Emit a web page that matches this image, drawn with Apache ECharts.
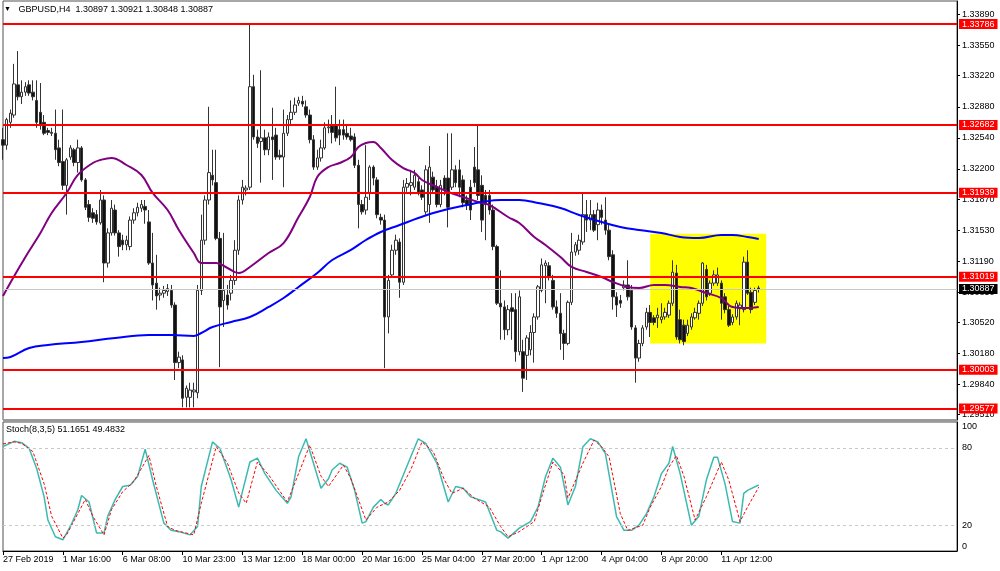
<!DOCTYPE html>
<html><head><meta charset="utf-8">
<script src="https://cdn.jsdelivr.net/npm/echarts@6/dist/echarts.min.js"></script>
<style>html,body{margin:0;padding:0;background:#fff}#c{width:1000px;height:571px}</style>
</head><body><div id="c"></div>
<script>
const symbolTitle = 'GBPUSD,H4';
const lastQuote = ['1.30897','1.30921','1.30848','1.30887'];
const stochTitle = 'Stoch(8,3,5) 51.1651 49.4832';
const timeLabels = ['27 Feb 2019','1 Mar 16:00','6 Mar 08:00','10 Mar 23:00','13 Mar 12:00','18 Mar 00:00','20 Mar 16:00','25 Mar 04:00','27 Mar 20:00','1 Apr 12:00','4 Apr 04:00','8 Apr 20:00','11 Apr 12:00'];
const labelEvery = 16;
const barSlots = 256;

const open = [1.3252,1.3246,1.3271,1.3279,1.3312,1.3299,1.3304,1.3312,1.3304,1.3295,
1.3282,1.3271,1.3262,1.3260,1.3259,1.3243,1.3228,1.3202,1.3233,1.3241,
1.3227,1.3243,1.3208,1.3181,1.3172,1.3170,1.3161,1.3186,1.3117,1.3150,
1.3175,1.3150,1.3142,1.3137,1.3135,1.3164,1.3172,1.3177,1.3179,1.3162,
1.3117,1.3095,1.3082,1.3084,1.3086,1.3087,1.3071,1.3008,1.3011,1.2970,
1.2970,1.2976,1.2975,1.3087,1.3142,1.3186,1.3213,1.3205,1.3144,1.3076,
1.3082,1.3084,1.3098,1.3131,1.3186,1.3197,1.3200,1.3310,1.3255,1.3250,
1.3254,1.3241,1.3255,1.3257,1.3235,1.3233,1.3259,1.3274,1.3282,1.3292,
1.3294,1.3288,1.3279,1.3252,1.3222,1.3232,1.3243,1.3265,1.3267,1.3268,
1.3263,1.3263,1.3259,1.3256,1.3255,1.3224,1.3181,1.3175,1.3194,1.3222,
1.3208,1.3167,1.3164,1.3058,1.3104,1.3131,1.3140,1.3096,1.3200,1.3202,
1.3200,1.3206,1.3197,1.3173,1.3181,1.3211,1.3200,1.3181,1.3210,1.3210,
1.3200,1.3219,1.3219,1.3208,1.3186,1.3200,1.3222,1.3219,1.3202,1.3191,
1.3191,1.3175,1.3135,1.3073,1.3069,1.3044,1.3068,1.3066,1.3020,1.3020,
1.3016,1.3022,1.3041,1.3058,1.3087,1.3114,1.3114,1.3098,1.3069,1.3062,
1.3040,1.3029,1.3074,1.3129,1.3131,1.3140,1.3170,1.3164,1.3170,1.3159,
1.3175,1.3164,1.3153,1.3126,1.3080,1.3076,1.3090,1.3093,1.3087,1.3046,
1.3013,1.3029,1.3047,1.3063,1.3057,1.3057,1.3055,1.3058,1.3060,1.3073,
1.3106,1.3055,1.3049,1.3040,1.3047,1.3057,1.3062,1.3073,1.3110,1.3084,
1.3095,1.3095,1.3095,1.3080,1.3066,1.3052,1.3058,1.3067,1.3066,1.3118,
1.3085,1.3074,1.30897];
const high = [1.3265,1.3276,1.3285,1.3335,1.3349,1.3317,1.3315,1.3317,1.3317,1.3317,
1.3314,1.3279,1.3265,1.3265,1.3285,1.3252,1.3285,1.3232,1.3246,1.3243,
1.3252,1.3245,1.3210,1.3186,1.3177,1.3175,1.3197,1.3191,1.3155,1.3186,
1.3181,1.3153,1.3148,1.3147,1.3168,1.3177,1.3183,1.3186,1.3186,1.3175,
1.3150,1.3126,1.3090,1.3092,1.3094,1.3093,1.3074,1.3020,1.3016,1.2983,
1.2986,1.2986,1.3093,1.3170,1.3191,1.3288,1.3241,1.3241,1.3151,1.3150,
1.3093,1.3104,1.3142,1.3191,1.3208,1.3202,1.3379,1.3323,1.3263,1.3328,
1.3263,1.3260,1.3287,1.3265,1.3241,1.3285,1.3279,1.3295,1.3298,1.3299,
1.3300,1.3295,1.3285,1.3257,1.3241,1.3252,1.3271,1.3274,1.3279,1.3310,
1.3274,1.3274,1.3268,1.3265,1.3259,1.3230,1.3186,1.3246,1.3224,1.3224,
1.3211,1.3171,1.3170,1.3104,1.3137,1.3148,1.3144,1.3208,1.3210,1.3219,
1.3219,1.3210,1.3202,1.3224,1.3245,1.3217,1.3208,1.3208,1.3213,1.3259,
1.3259,1.3224,1.3230,1.3213,1.3191,1.3208,1.3244,1.3268,1.3213,1.3197,
1.3197,1.3181,1.3137,1.3109,1.3076,1.3071,1.3084,1.3084,1.3087,1.3033,
1.3038,1.3049,1.3062,1.3093,1.3122,1.3120,1.3118,1.3104,1.3076,1.3084,
1.3044,1.3076,1.3150,1.3140,1.3148,1.3194,1.3186,1.3186,1.3175,1.3183,
1.3181,1.3189,1.3159,1.3131,1.3085,1.3082,1.3098,1.3120,1.3093,1.3049,
1.3033,1.3049,1.3068,1.3071,1.3060,1.3068,1.3073,1.3068,1.3076,1.3120,
1.3115,1.3066,1.3055,1.3055,1.3062,1.3068,1.3076,1.3118,1.3115,1.3098,
1.3109,1.3112,1.3098,1.3084,1.3070,1.3061,1.3076,1.3074,1.3124,1.3131,
1.3090,1.3090,1.30921];
const low = [1.3230,1.3241,1.3265,1.3276,1.3295,1.3291,1.3300,1.3300,1.3295,1.3265,
1.3263,1.3257,1.3257,1.3256,1.3230,1.3223,1.3197,1.3170,1.3230,1.3223,
1.3216,1.3206,1.3175,1.3162,1.3161,1.3159,1.3159,1.3096,1.3112,1.3147,
1.3147,1.3124,1.3131,1.3131,1.3131,1.3160,1.3168,1.3173,1.3160,1.3115,
1.3076,1.3066,1.3076,1.3079,1.3081,1.3068,1.2989,1.3002,1.2959,1.2959,
1.2959,1.2959,1.2969,1.3082,1.3137,1.3181,1.3202,1.3142,1.3003,1.3047,
1.3066,1.3076,1.3093,1.3126,1.3181,1.3191,1.3197,1.3252,1.3243,1.3205,
1.3235,1.3235,1.3208,1.3230,1.3230,1.3200,1.3256,1.3269,1.3279,1.3289,
1.3288,1.3276,1.3248,1.3219,1.3219,1.3228,1.3241,1.3259,1.3248,1.3250,
1.3246,1.3252,1.3252,1.3250,1.3221,1.3155,1.3170,1.3170,1.3186,1.3202,
1.3166,1.3159,1.3002,1.3040,1.3101,1.3126,1.3079,1.3093,1.3195,1.3191,
1.3197,1.3191,1.3186,1.3170,1.3161,1.3194,1.3178,1.3178,1.3191,1.3156,
1.3197,1.3200,1.3189,1.3178,1.3175,1.3164,1.3200,1.3186,1.3151,1.3142,
1.3170,1.3131,1.3071,1.3033,1.3033,1.3038,1.3033,1.3009,1.3016,1.2976,
1.2989,1.3016,1.3008,1.3055,1.3085,1.3073,1.3098,1.3066,1.3057,1.3022,
1.3011,1.3027,1.3071,1.3125,1.3126,1.3137,1.3151,1.3153,1.3151,1.3142,
1.3159,1.3148,1.3120,1.3066,1.3058,1.3068,1.3087,1.3076,1.3044,1.2986,
1.3009,1.3026,1.3044,1.3036,1.3049,1.3046,1.3051,1.3055,1.3057,1.3070,
1.3033,1.3029,1.3027,1.3037,1.3044,1.3055,1.3055,1.3070,1.3076,1.3081,
1.3092,1.3092,1.3055,1.3062,1.3047,1.3049,1.3055,1.3049,1.3063,1.3082,
1.3062,1.3071,1.30848];
const close = [1.3246,1.3274,1.3281,1.3313,1.3299,1.3304,1.3310,1.3303,1.3299,1.3271,
1.3268,1.3259,1.3260,1.3259,1.3241,1.3227,1.3202,1.3230,1.3243,1.3227,
1.3243,1.3208,1.3178,1.3167,1.3166,1.3162,1.3186,1.3117,1.3150,1.3177,
1.3150,1.3135,1.3137,1.3142,1.3164,1.3172,1.3178,1.3181,1.3175,1.3117,
1.3093,1.3081,1.3084,1.3087,1.3089,1.3071,1.3008,1.3014,1.2969,1.2980,
1.2978,1.2978,1.3087,1.3142,1.3186,1.3216,1.3208,1.3144,1.3069,1.3087,
1.3071,1.3098,1.3131,1.3186,1.3200,1.3199,1.3310,1.3255,1.3248,1.3254,
1.3241,1.3255,1.3252,1.3233,1.3233,1.3259,1.3274,1.3282,1.3290,1.3295,
1.3291,1.3279,1.3252,1.3222,1.3232,1.3243,1.3265,1.3266,1.3260,1.3254,
1.3257,1.3257,1.3255,1.3252,1.3224,1.3181,1.3173,1.3189,1.3222,1.3210,
1.3170,1.3164,1.3058,1.3098,1.3131,1.3142,1.3096,1.3200,1.3204,1.3205,
1.3213,1.3194,1.3189,1.3219,1.3222,1.3197,1.3181,1.3202,1.3197,1.3178,
1.3219,1.3205,1.3200,1.3183,1.3181,1.3175,1.3205,1.3191,1.3164,1.3181,
1.3175,1.3135,1.3073,1.3069,1.3044,1.3066,1.3064,1.3020,1.3080,1.2991,
1.3035,1.3041,1.3058,1.3091,1.3115,1.3117,1.3102,1.3069,1.3062,1.3040,
1.3029,1.3074,1.3129,1.3137,1.3142,1.3170,1.3164,1.3170,1.3153,1.3175,
1.3167,1.3153,1.3124,1.3080,1.3071,1.3073,1.3093,1.3080,1.3047,1.3013,
1.3029,1.3046,1.3063,1.3052,1.3052,1.3060,1.3058,1.3063,1.3073,1.3107,
1.3036,1.3033,1.3031,1.3049,1.3058,1.3063,1.3073,1.3117,1.3080,1.3095,
1.3104,1.3104,1.3073,1.3066,1.3049,1.3058,1.3073,1.3071,1.3118,1.3084,
1.3066,1.3087,1.30887];

const maPurple = [[0,1.30809],[3,1.31028],[6,1.31236],[10,1.31499],[13,1.31718],[17,1.31937],[20,1.32134],[24,1.32265],[26,1.32298],[29,1.3232],[33,1.32243],[37,1.32134],[40,1.31937],[44,1.3175],[47,1.31532],[51,1.3128],[53,1.3117],[57,1.3117],[60,1.31116],[63,1.31061],[66,1.31127],[71,1.3128],[75,1.31389],[79,1.31674],[82,1.31893],[84,1.32112],[87,1.32221],[90,1.32265],[93,1.32331],[95,1.3244],[97,1.32484],[99,1.32495],[101,1.32429],[104,1.32298],[107,1.3221],[110,1.32156],[112,1.32079],[116,1.32002],[119,1.31948],[123,1.31893],[127,1.31838],[130,1.31805],[135,1.31674],[138,1.31608],[142,1.31455],[145,1.31368],[149,1.31236],[152,1.31127],[156,1.31072],[160,1.31017],[163,1.30963],[167,1.30908],[170,1.30897],[174,1.3093],[177,1.3093],[181,1.30908],[184,1.30897],[188,1.30842],[192,1.30787],[195,1.30689],[199,1.30678],[202,1.30689]];
const maBlue = [[0,1.30131],[2,1.30142],[7,1.3024],[12,1.30273],[21,1.30306],[30,1.3035],[39,1.30382],[45,1.30382],[51,1.30372],[53,1.30404],[56,1.3047],[61,1.30525],[66,1.30579],[71,1.30689],[75,1.30787],[79,1.30908],[84,1.31061],[88,1.31203],[93,1.31313],[97,1.31422],[101,1.3151],[106,1.31586],[111,1.31663],[115,1.31718],[119,1.31762],[124,1.31805],[128,1.31838],[133,1.3186],[138,1.3186],[143,1.31827],[149,1.31772],[154,1.31696],[160,1.31619],[165,1.31565],[170,1.31532],[176,1.31499],[181,1.31455],[186,1.31444],[192,1.31477],[195,1.31477],[199,1.31455],[202,1.31433]];

const stochMain = [[0,81],[3,85],[5,84],[7,79.5],[9,64],[11,42],[12,24],[14,11],[16,8.7],[18,19],[20,32],[21,43],[23,38],[25,14],[27,14],[28,27],[30,40],[32,50],[34,51],[36,58],[38,79],[40,55],[43,21.6],[45,16],[47,15],[50,12.5],[52,19],[53,50],[56,84.6],[58,79.5],[61,55],[63,34],[64,46],[66,69],[68,72],[70,60],[73,47],[76,37],[77,42],[79,73],[81,87],[83,68],[85,48.6],[87,56],[88,63],[90,68],[92,65],[94,47],[96,21.6],[97,22.8],[99,34],[101,40],[102,37],[103,35.7],[105,44.7],[109,73],[111,87],[113,83.4],[116,68],[119,38],[121,50],[123,48.6],[125,42],[126,41],[129,38],[132,16],[133,15],[135,10],[138,17.7],[141,22.8],[143,34],[145,57.6],[147,72],[149,65],[151,35.7],[153,50],[155,80.8],[157,87],[159,84.6],[161,75.7],[164,26.7],[166,16],[168,16],[170,20],[172,29],[174,42],[176,60],[178,68],[179,81],[181,60],[184,20],[186,27],[188,55],[190,72.6],[191,72.6],[193,52],[195,22.8],[197,21.6],[198,44.7],[199,47],[202,51.17]];
const stochSignal = [[0,83],[3,84.6],[5,83.4],[8,77],[11,52],[13,27],[16,10],[17,12.5],[20,29],[22,40],[24,27],[27,12.5],[29,32],[32,46],[35,54],[39,74],[41,50],[44,19],[46,16],[51,12.5],[53,37],[57,81],[60,68],[63,45],[65,37],[68,69],[71,59],[76,38],[79,60],[82,82],[85,58],[87,50],[91,66.6],[93,56],[97,24],[100,34],[103,38],[106,47],[109,63],[112,84.6],[115,77],[118,55],[120,44.7],[123,48.6],[126,41],[130,34],[133,19],[135,11],[138,15],[142,22.8],[144,42],[147,69],[150,59],[151,41],[155,68],[158,86],[160,80.8],[162,73],[165,29],[167,16],[171,20],[173,34],[176,50],[178,65],[180,74],[182,58],[185,24],[188,42],[192,69],[194,55],[197,22.8],[199,34],[202,49.48]];

const levels = [1.33786,1.32682,1.31939,1.31019,1.30003,1.29577];
const lastPrice = 1.30887;
const priceTicks = [1.29510,1.29840,1.30180,1.30520,1.30850,1.31190,1.31530,1.31870,1.32200,1.32540,1.32880,1.33220,1.33550,1.33890];
const stochTicks = [0,20,80,100];
const stochLevels = [20,80];
const boxBars = [173,204];
const boxPrices = [1.3149,1.3029];

const FONT = 'Liberation Sans';
const cats = Array.from({length: barSlots}, (_, i) => String(i));
const showTick = (idx) => idx % labelEvery === 0 && idx / labelEvery < timeLabels.length;
const candles = open.map((o, i) => [o, close[i], low[i], high[i]]);

const chart = echarts.init(document.getElementById('c'), null, {renderer: 'canvas'});
chart.setOption({
  animation: false,
  backgroundColor: '#ffffff',
  textStyle: {fontFamily: FONT},
  title: [
    {left: 4, top: 5, padding: 0, text: '{t|▼}   ' + symbolTitle + '  ' + lastQuote.join(' '),
     textStyle: {fontSize: 9, fontWeight: 'normal', color: '#000', fontFamily: FONT,
       rich: {t: {fontSize: 7, color: '#000'}}}},
    {left: 6, top: 425, padding: 0, text: stochTitle,
     textStyle: {fontSize: 9, fontWeight: 'normal', color: '#000', fontFamily: FONT}}
  ],
  graphic: [{type: 'rect', silent: true, z: 10, shape: {x: 3, y: 419, width: 954, height: 3}, style: {fill: '#9a9a9a'}}],
  grid: [
    {left: 3, top: 1, width: 954, height: 419, show: true, borderColor: '#505050', borderWidth: 1, backgroundColor: '#fff'},
    {left: 3, top: 422, width: 954, height: 129, show: true, borderColor: '#505050', borderWidth: 1, backgroundColor: '#fff'}
  ],
  xAxis: [
    {type: 'category', gridIndex: 0, data: cats, boundaryGap: false,
     axisLine: {show: false}, axisTick: {show: false}, axisLabel: {show: false}, splitLine: {show: false}},
    {type: 'category', gridIndex: 1, data: cats, boundaryGap: false,
     axisLine: {show: true, lineStyle: {color: '#000', width: 1}},
     axisTick: {show: true, interval: showTick, length: 4, lineStyle: {color: '#000'}},
     axisLabel: {show: true, interval: showTick, align: 'left', margin: 4, fontSize: 9, color: '#000', fontFamily: FONT,
       formatter: (v, idx) => timeLabels[idx / labelEvery] || ''},
     splitLine: {show: false}}
  ],
  yAxis: [
    {type: 'value', gridIndex: 0, position: 'right', min: 1.29452, max: 1.34038,
     axisLine: {show: true, lineStyle: {color: '#000'}},
     axisTick: {show: true, length: 3, customValues: priceTicks, lineStyle: {color: '#000'}},
     axisLabel: {show: true, customValues: priceTicks, margin: 5, fontSize: 9, color: '#000', fontFamily: FONT,
       formatter: v => v.toFixed(5)},
     splitLine: {show: false}},
    {type: 'value', gridIndex: 1, position: 'right', min: 0, max: 100,
     axisLine: {show: true, lineStyle: {color: '#000'}},
     axisTick: {show: false, customValues: stochTicks},
     axisLabel: {show: true, customValues: stochTicks, margin: 5, fontSize: 9, color: '#000', fontFamily: FONT,
       verticalAlignMinLabel: 'bottom', verticalAlignMaxLabel: 'top'},
     splitLine: {show: false}}
  ],
  series: [
    {type: 'line', xAxisIndex: 0, yAxisIndex: 0, data: [], z: 1, silent: true,
     markArea: {silent: true, itemStyle: {color: '#ffff00', opacity: 1},
       data: [[{xAxis: boxBars[0], yAxis: boxPrices[0]}, {xAxis: boxBars[1], yAxis: boxPrices[1]}]]},
     markLine: {silent: true, precision: 5, symbol: ['none', 'none'], animation: false,
       lineStyle: {color: '#c8c8c8', width: 1, type: 'solid'},
       label: {show: true, position: 'end', distance: 2, formatter: p => Number(p.value).toFixed(5),
         color: '#fff', backgroundColor: '#000', padding: [1, 3, 0, 3], fontSize: 9, fontFamily: FONT},
       data: [{yAxis: lastPrice}]}},
    {type: 'candlestick', xAxisIndex: 0, yAxisIndex: 0, data: candles, barWidth: 3, z: 2,
     itemStyle: {color: '#ffffff', color0: '#111111', borderColor: '#333333', borderColor0: '#333333', borderWidth: 1}},
    {type: 'line', xAxisIndex: 0, yAxisIndex: 0, data: maPurple, smooth: 0.4, showSymbol: false, z: 3,
     lineStyle: {color: '#800080', width: 2}},
    {type: 'line', xAxisIndex: 0, yAxisIndex: 0, data: maBlue, smooth: 0.4, showSymbol: false, z: 3,
     lineStyle: {color: '#0000ff', width: 2}},
    {type: 'line', xAxisIndex: 0, yAxisIndex: 0, data: [], z: 5, silent: true,
     markLine: {silent: true, precision: 5, symbol: ['none', 'none'], animation: false,
       lineStyle: {color: '#ff0000', width: 2, type: 'solid'},
       label: {show: true, position: 'end', distance: 2, formatter: p => Number(p.value).toFixed(5),
         color: '#fff', backgroundColor: '#ff0000', padding: [1, 3, 0, 3], fontSize: 9, fontFamily: FONT},
       data: levels.map(v => ({yAxis: v}))}},
    {type: 'line', xAxisIndex: 1, yAxisIndex: 1, data: stochMain, showSymbol: false, z: 3,
     lineStyle: {color: '#3cbab2', width: 1.5},
     markLine: {silent: true, symbol: ['none', 'none'], animation: false, label: {show: false},
       lineStyle: {color: '#c8c8c8', width: 1, type: [3, 3]},
       data: stochLevels.map(v => ({yAxis: v}))}},
    {type: 'line', xAxisIndex: 1, yAxisIndex: 1, data: stochSignal, showSymbol: false, z: 4,
     lineStyle: {color: '#ff0000', width: 1, type: [3, 2]}}
  ]
});
</script></body></html>
